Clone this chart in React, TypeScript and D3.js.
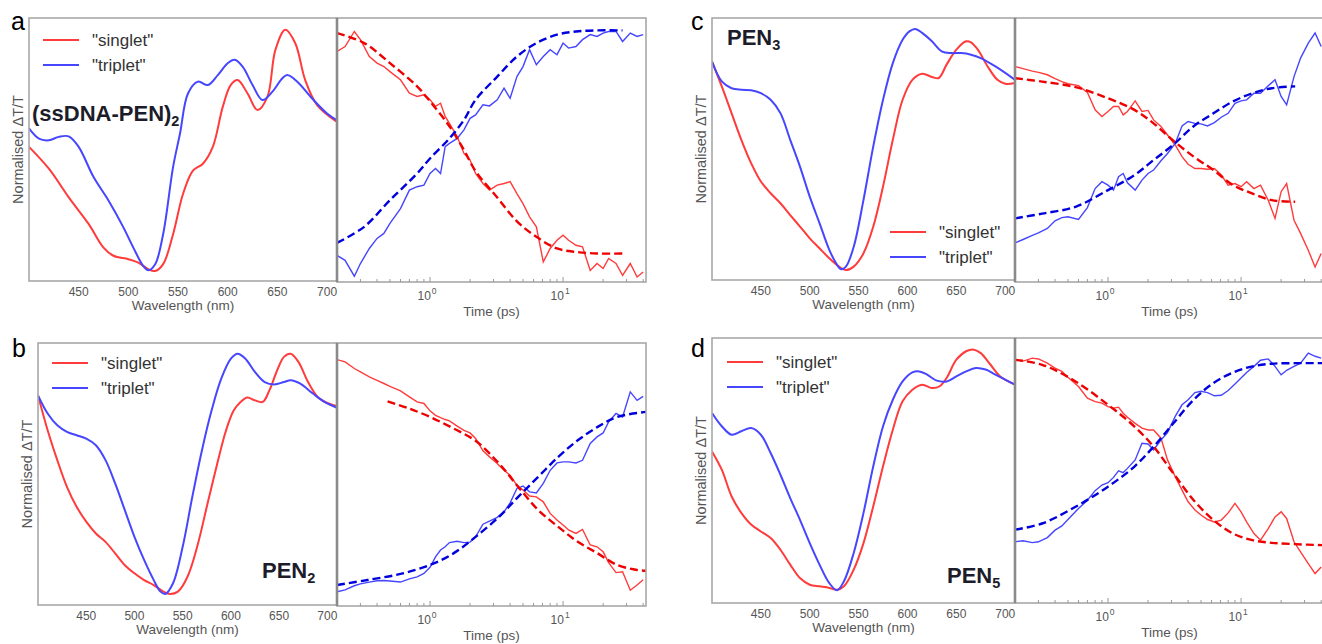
import React from "react";
import * as d3 from "d3";

const WIDTH = 1322;
const HEIGHT = 644;
const FONT = "Liberation Sans, Arial, sans-serif";

const WL_DOMAIN: [number, number] = [400, 710];
const T_DOMAIN: [number, number] = [0.2, 42];
const WL_TICKS = [450, 500, 550, 600, 650, 700];

const RED = "#ff3b3b";
const BLUE = "#4646ff";
const FIT_RED = "#ee0000";
const FIT_BLUE = "#0000dd";

// ---- spectra: [wavelength (nm), normalised dT/T] ----
const specA_singlet = [[400,0.51],[420,0.427],[440,0.318],[460,0.217],[475,0.127],[485,0.096],[500,0.083],[510,0.07],[520,0.045],[527,0.038],[535,0.064],[545,0.178],[555,0.331],[565,0.42],[575,0.446],[585,0.51],[595,0.662],[603,0.745],[610,0.764],[620,0.713],[630,0.65],[640,0.701],[648,0.879],[658,0.955],[668,0.904],[678,0.764],[690,0.669],[710,0.605]];
const specA_triplet = [[400,0.58],[410,0.541],[420,0.535],[430,0.548],[440,0.55],[450,0.51],[465,0.395],[480,0.306],[495,0.204],[505,0.127],[515,0.057],[520,0.041],[527,0.064],[535,0.178],[545,0.433],[552,0.561],[560,0.713],[570,0.758],[580,0.745],[590,0.783],[600,0.828],[607,0.841],[615,0.815],[625,0.745],[635,0.688],[645,0.72],[655,0.771],[660,0.783],[670,0.758],[685,0.694],[700,0.637],[710,0.611]];

const specB_singlet = [[400,0.8],[410,0.667],[420,0.553],[430,0.451],[440,0.375],[450,0.318],[460,0.273],[470,0.241],[480,0.197],[490,0.152],[500,0.121],[510,0.095],[520,0.076],[530,0.051],[537,0.042],[545,0.051],[555,0.108],[565,0.222],[575,0.375],[585,0.527],[595,0.667],[603,0.743],[610,0.775],[617,0.792],[625,0.781],[633,0.775],[640,0.82],[648,0.896],[655,0.947],[662,0.959],[670,0.928],[680,0.851],[690,0.794],[700,0.771],[710,0.759]];
const specB_triplet = [[400,0.8],[410,0.731],[420,0.686],[430,0.661],[440,0.648],[450,0.635],[460,0.61],[470,0.553],[480,0.464],[490,0.362],[500,0.26],[510,0.172],[520,0.095],[527,0.051],[532,0.042],[540,0.083],[550,0.222],[560,0.413],[570,0.591],[580,0.743],[590,0.864],[600,0.94],[607,0.959],[615,0.94],[625,0.889],[635,0.851],[645,0.842],[655,0.851],[662,0.858],[672,0.845],[685,0.807],[697,0.775],[710,0.753]];

const specC_singlet = [[400,0.834],[410,0.739],[420,0.637],[430,0.535],[440,0.446],[450,0.376],[460,0.331],[470,0.293],[480,0.248],[490,0.204],[500,0.159],[510,0.121],[520,0.083],[530,0.051],[537,0.038],[545,0.051],[555,0.102],[565,0.204],[575,0.357],[585,0.535],[595,0.688],[605,0.764],[615,0.787],[625,0.775],[632,0.771],[640,0.822],[650,0.879],[660,0.911],[665,0.907],[672,0.879],[682,0.815],[692,0.764],[700,0.749],[710,0.752]];
const specC_triplet = [[400,0.834],[410,0.758],[420,0.732],[430,0.726],[440,0.724],[450,0.713],[460,0.688],[470,0.637],[480,0.535],[490,0.433],[500,0.318],[510,0.217],[520,0.115],[527,0.064],[532,0.041],[537,0.051],[545,0.127],[555,0.306],[565,0.51],[575,0.688],[585,0.828],[595,0.917],[602,0.949],[608,0.958],[615,0.943],[625,0.911],[635,0.873],[645,0.866],[655,0.866],[665,0.86],[675,0.847],[690,0.815],[710,0.764]];

const specD_singlet = [[400,0.572],[410,0.503],[420,0.403],[430,0.34],[440,0.296],[450,0.27],[460,0.245],[470,0.201],[480,0.145],[490,0.094],[500,0.069],[510,0.063],[520,0.057],[528,0.05],[535,0.063],[545,0.126],[555,0.226],[565,0.365],[575,0.516],[585,0.654],[595,0.761],[605,0.805],[615,0.824],[625,0.811],[633,0.818],[640,0.849],[650,0.918],[660,0.95],[668,0.956],[675,0.943],[685,0.899],[695,0.855],[710,0.824]];
const specD_triplet = [[400,0.717],[410,0.667],[420,0.635],[430,0.648],[440,0.66],[450,0.635],[460,0.566],[470,0.484],[480,0.396],[490,0.314],[500,0.226],[510,0.145],[520,0.075],[528,0.048],[535,0.082],[545,0.189],[555,0.34],[565,0.516],[575,0.667],[585,0.767],[595,0.836],[605,0.87],[612,0.874],[620,0.862],[630,0.839],[640,0.836],[650,0.855],[660,0.874],[670,0.887],[680,0.881],[690,0.862],[710,0.824]];

// ---- kinetics: raw traces share one time base (ps) ----
const KIN_T = [0.2,0.23,0.27,0.3,0.35,0.4,0.45,0.5,0.6,0.7,0.8,0.9,1.0,1.1,1.2,1.3,1.4,1.6,1.8,2.0,2.2,2.5,2.8,3.2,3.6,4.0,4.5,5.0,5.6,6.3,7.1,8.0,9.0,10,11,12.5,14,16,18,20,22,25,28,32,36,40];

const kinA_singlet = [0.873,0.892,0.949,0.918,0.854,0.829,0.816,0.797,0.766,0.715,0.703,0.709,0.69,0.665,0.677,0.627,0.601,0.551,0.487,0.462,0.411,0.373,0.348,0.367,0.373,0.38,0.335,0.297,0.247,0.209,0.076,0.127,0.158,0.177,0.158,0.139,0.133,0.044,0.07,0.051,0.089,0.07,0.025,0.07,0.019,0.038];
const kinA_triplet = [0.101,0.082,0.022,0.07,0.127,0.165,0.184,0.222,0.278,0.348,0.361,0.367,0.411,0.43,0.411,0.513,0.525,0.544,0.576,0.62,0.633,0.671,0.667,0.69,0.734,0.696,0.778,0.816,0.88,0.823,0.854,0.88,0.861,0.905,0.886,0.892,0.918,0.937,0.93,0.943,0.949,0.949,0.911,0.943,0.93,0.937];
const kinB_singlet = [0.937,0.928,0.903,0.89,0.871,0.858,0.846,0.835,0.818,0.795,0.776,0.77,0.742,0.725,0.716,0.709,0.704,0.684,0.668,0.658,0.637,0.59,0.567,0.542,0.516,0.497,0.459,0.441,0.418,0.415,0.396,0.352,0.327,0.308,0.289,0.276,0.291,0.232,0.225,0.206,0.165,0.127,0.13,0.06,0.08,0.1];
const kinB_triplet = [0.054,0.061,0.077,0.084,0.091,0.096,0.097,0.095,0.091,0.103,0.111,0.124,0.147,0.187,0.213,0.225,0.241,0.246,0.241,0.243,0.263,0.311,0.323,0.337,0.358,0.392,0.447,0.456,0.434,0.43,0.466,0.516,0.544,0.548,0.548,0.544,0.554,0.618,0.643,0.658,0.7,0.732,0.719,0.814,0.782,0.797];
const kinC_singlet = [0.816,0.808,0.799,0.794,0.785,0.77,0.759,0.751,0.744,0.718,0.652,0.627,0.646,0.665,0.665,0.633,0.646,0.686,0.646,0.65,0.614,0.589,0.557,0.519,0.475,0.446,0.43,0.43,0.427,0.43,0.405,0.367,0.373,0.361,0.38,0.354,0.367,0.31,0.241,0.342,0.373,0.234,0.184,0.12,0.057,0.108];
const kinC_triplet = [0.148,0.161,0.177,0.186,0.203,0.232,0.244,0.247,0.237,0.282,0.354,0.38,0.367,0.348,0.399,0.411,0.376,0.348,0.386,0.411,0.424,0.459,0.487,0.525,0.591,0.608,0.601,0.599,0.591,0.604,0.624,0.639,0.677,0.686,0.69,0.715,0.715,0.743,0.766,0.703,0.671,0.778,0.848,0.905,0.943,0.892];
const kinD_singlet = [0.918,0.913,0.924,0.921,0.905,0.886,0.874,0.852,0.817,0.773,0.76,0.754,0.741,0.735,0.739,0.716,0.701,0.678,0.66,0.653,0.653,0.622,0.54,0.477,0.426,0.382,0.351,0.332,0.315,0.306,0.313,0.34,0.376,0.344,0.306,0.262,0.237,0.281,0.325,0.344,0.319,0.231,0.193,0.149,0.111,0.136];
const kinD_triplet = [0.231,0.235,0.228,0.231,0.247,0.275,0.291,0.315,0.357,0.388,0.424,0.445,0.454,0.474,0.499,0.492,0.508,0.54,0.603,0.6,0.578,0.615,0.643,0.704,0.748,0.767,0.794,0.799,0.794,0.782,0.784,0.802,0.826,0.849,0.87,0.893,0.916,0.921,0.893,0.861,0.878,0.893,0.905,0.943,0.931,0.924];

// ---- fitted curves (dashed) ----
const fitA_t = [0.2,0.32,0.5,0.8,1.0,1.4,1.8,2.2,3.2,4.5,6.3,9,12.5,18,28];
const fitA_singlet = [0.943,0.905,0.829,0.741,0.684,0.59,0.5,0.42,0.32,0.23,0.171,0.127,0.114,0.108,0.108];
const fitA_triplet = [0.148,0.209,0.31,0.411,0.468,0.544,0.614,0.69,0.778,0.854,0.905,0.937,0.949,0.953,0.953];

const fitB_singlet_t = [0.48,0.67,1.0,1.5,2.2,3.3,4.6,6.5,9.2,12.9,18.2,25.5,36,42];
const fitB_singlet = [0.778,0.754,0.719,0.675,0.628,0.542,0.453,0.365,0.301,0.244,0.2,0.156,0.137,0.134];
const fitB_triplet_t = [0.2,0.34,0.6,1.0,1.5,2.2,3.3,4.6,6.5,9.2,12.9,18.2,25.5,42];
const fitB_triplet = [0.08,0.099,0.122,0.156,0.2,0.263,0.339,0.415,0.491,0.567,0.63,0.681,0.719,0.738];

const fitC_t = [0.2,0.32,0.57,1.0,1.58,2.2,3.1,4.4,6.2,8.7,12.2,17,25.5];
const fitC_singlet = [0.772,0.759,0.738,0.696,0.652,0.601,0.535,0.475,0.424,0.367,0.335,0.31,0.304];
const fitC_triplet = [0.241,0.259,0.285,0.348,0.405,0.462,0.52,0.59,0.639,0.684,0.715,0.734,0.741];

const fitD_t = [0.2,0.32,0.57,1.0,1.58,2.2,3.1,4.4,6.2,8.7,12.2,17,25.5,42];
const fitD_singlet = [0.918,0.899,0.836,0.748,0.666,0.59,0.489,0.388,0.313,0.262,0.237,0.227,0.222,0.218];
const fitD_triplet = [0.277,0.3,0.363,0.439,0.515,0.59,0.678,0.767,0.83,0.87,0.893,0.903,0.905,0.905];

type Box = { x0: number; x1: number; y0: number; y1: number };

function Spectrum({ id, box, singlet, triplet }: { id: string; box: Box; singlet: number[][]; triplet: number[][] }) {
  const x = d3.scaleLinear().domain(WL_DOMAIN).range([box.x0, box.x1]);
  const y = d3.scaleLinear().domain([0, 1]).range([box.y1, box.y0]);
  const line = d3
    .line<number[]>()
    .x((d) => x(d[0]))
    .y((d) => y(d[1]))
    .curve(d3.curveCatmullRom.alpha(0.5));

  return (
    <g>
      <clipPath id={id}>
        <rect x={box.x0} y={box.y0} width={box.x1 - box.x0 + 2} height={box.y1 - box.y0} />
      </clipPath>
      <g clipPath={`url(#${id})`} fill="none" strokeWidth={2}>
        <path d={line(singlet) || ""} stroke={RED} />
        <path d={line(triplet) || ""} stroke={BLUE} />
      </g>
      <rect x={box.x0} y={box.y0} width={box.x1 - box.x0} height={box.y1 - box.y0} fill="none" stroke="#a8a8a8" strokeWidth={1.6} />
      {WL_TICKS.map((t) => (
        <text key={t} x={x(t)} y={box.y1 + 15} textAnchor="middle" fontSize={12} fill="#555">
          {t}
        </text>
      ))}
      <text x={(box.x0 + box.x1) / 2} y={box.y1 + 29} textAnchor="middle" fontSize={13.5} fill="#555">
        Wavelength (nm)
      </text>
      <text
        transform={`translate(${box.x0 - 11}, ${(box.y0 + box.y1) / 2}) rotate(-90)`}
        textAnchor="middle"
        dy="0.35em"
        fontSize={14.5}
        fill="#555"
      >
        Normalised ΔT/T
      </text>
    </g>
  );
}

function Kinetics({
  id, box, sRaw, tRaw, sFitT, sFit, tFitT, tFit,
}: {
  id: string; box: Box; sRaw: number[]; tRaw: number[];
  sFitT: number[]; sFit: number[]; tFitT: number[]; tFit: number[];
}) {
  const x = d3.scaleLog().domain(T_DOMAIN).range([box.x0, box.x1]);
  const y = d3.scaleLinear().domain([0, 1]).range([box.y1, box.y0]);
  const raw = d3
    .line<number>()
    .x((_, i) => x(KIN_T[i]))
    .y((d) => y(d));
  const fit = (ts: number[]) =>
    d3
      .line<number>()
      .x((_, i) => x(ts[i]))
      .y((d) => y(d))
      .curve(d3.curveCatmullRom.alpha(0.5));
  const ticks = x.ticks();
  const isMajor = (t: number) => Math.abs(Math.log10(t) - Math.round(Math.log10(t))) < 1e-9;

  return (
    <g>
      <clipPath id={id}>
        <rect x={box.x0} y={box.y0} width={box.x1 - box.x0} height={box.y1 - box.y0} />
      </clipPath>
      <g clipPath={`url(#${id})`} fill="none">
        <path d={raw(sRaw) || ""} stroke={RED} strokeWidth={1.4} />
        <path d={raw(tRaw) || ""} stroke={BLUE} strokeWidth={1.4} />
        <path d={fit(sFitT)(sFit) || ""} stroke={FIT_RED} strokeWidth={2.4} strokeDasharray="8 4" />
        <path d={fit(tFitT)(tFit) || ""} stroke={FIT_BLUE} strokeWidth={2.4} strokeDasharray="8 4" />
      </g>
      <rect x={box.x0} y={box.y0} width={box.x1 - box.x0} height={box.y1 - box.y0} fill="none" stroke="#a8a8a8" strokeWidth={1.6} />
      {ticks.map((t, i) => (
        <line key={i} x1={x(t)} x2={x(t)} y1={box.y1} y2={box.y1 - (isMajor(t) ? 5 : 3)} stroke="#999" strokeWidth={1} />
      ))}
      {ticks.filter(isMajor).map((t) => (
        <text key={t} x={x(t) - 3} y={box.y1 + 18} textAnchor="middle" fontSize={12} fill="#555">
          10
          <tspan fontSize={8.5} dx={1} dy={-6}>
            {Math.round(Math.log10(t))}
          </tspan>
        </text>
      ))}
      <text x={(box.x0 + box.x1) / 2} y={box.y1 + 34} textAnchor="middle" fontSize={13.5} fill="#555">
        Time (ps)
      </text>
      <line x1={box.x0} x2={box.x0} y1={box.y0} y2={box.y1} stroke="#8a8a8a" strokeWidth={2.6} />
    </g>
  );
}

function Legend({ x, y }: { x: number; y: number }) {
  const items = [
    { label: '"singlet"', color: RED },
    { label: '"triplet"', color: BLUE },
  ];
  return (
    <g>
      {items.map((it, i) => (
        <g key={it.label} transform={`translate(${x}, ${y + i * 25})`}>
          <line x1={0} x2={36} y1={0} y2={0} stroke={it.color} strokeWidth={2} />
          <text x={49} y={6} fontSize={17} fill="#333">
            {it.label}
          </text>
        </g>
      ))}
    </g>
  );
}

function Tag({ x, y, text, sub }: { x: number; y: number; text: string; sub: string }) {
  return (
    <text x={x} y={y} fontSize={22} fontWeight="bold" fill="#1c1c2a">
      {text}
      <tspan fontSize={14.5} dy={5}>
        {sub}
      </tspan>
    </text>
  );
}

const specBoxA = { x0: 29, x1: 337, y0: 18, y1: 281 };
const kinBoxA = { x0: 337, x1: 646, y0: 18, y1: 282 };
const specBoxB = { x0: 38, x1: 337, y0: 343, y1: 605 };
const kinBoxB = { x0: 337, x1: 646, y0: 343, y1: 606 };
const specBoxC = { x0: 712, x1: 1015, y0: 18, y1: 280 };
const kinBoxC = { x0: 1015, x1: 1324, y0: 18, y1: 282 };
const specBoxD = { x0: 712, x1: 1015, y0: 338, y1: 603 };
const kinBoxD = { x0: 1015, x1: 1324, y0: 338, y1: 603 };

export default function App() {
  return (
    <svg
      width={WIDTH}
      height={HEIGHT}
      style={{ position: "absolute", left: 0, top: 0, background: "#fff" }}
      fontFamily={FONT}
    >
      <rect width={WIDTH} height={HEIGHT} fill="#fff" />

      {/* a */}
      <Spectrum id="sa" box={specBoxA} singlet={specA_singlet} triplet={specA_triplet} />
      <Kinetics id="ka" box={kinBoxA} sRaw={kinA_singlet} tRaw={kinA_triplet} sFitT={fitA_t} sFit={fitA_singlet} tFitT={fitA_t} tFit={fitA_triplet} />
      <Legend x={43} y={40} />
      <Tag x={32} y={121} text="(ssDNA-PEN)" sub="2" />
      <text x={11} y={30} fontSize={25} fill="#000">a</text>

      {/* b */}
      <Spectrum id="sb" box={specBoxB} singlet={specB_singlet} triplet={specB_triplet} />
      <Kinetics id="kb" box={kinBoxB} sRaw={kinB_singlet} tRaw={kinB_triplet} sFitT={fitB_singlet_t} sFit={fitB_singlet} tFitT={fitB_triplet_t} tFit={fitB_triplet} />
      <Legend x={52} y={363} />
      <Tag x={262} y={578} text="PEN" sub="2" />
      <text x={12} y={357} fontSize={25} fill="#000">b</text>

      {/* c */}
      <Spectrum id="sc" box={specBoxC} singlet={specC_singlet} triplet={specC_triplet} />
      <Kinetics id="kc" box={kinBoxC} sRaw={kinC_singlet} tRaw={kinC_triplet} sFitT={fitC_t} sFit={fitC_singlet} tFitT={fitC_t} tFit={fitC_triplet} />
      <Legend x={890} y={232} />
      <Tag x={727} y={45} text="PEN" sub="3" />
      <text x={691} y={30} fontSize={25} fill="#000">c</text>

      {/* d */}
      <Spectrum id="sd" box={specBoxD} singlet={specD_singlet} triplet={specD_triplet} />
      <Kinetics id="kd" box={kinBoxD} sRaw={kinD_singlet} tRaw={kinD_triplet} sFitT={fitD_t} sFit={fitD_singlet} tFitT={fitD_t} tFit={fitD_triplet} />
      <Legend x={727} y={362} />
      <Tag x={947} y={583} text="PEN" sub="5" />
      <text x={691} y={357} fontSize={25} fill="#000">d</text>
    </svg>
  );
}
